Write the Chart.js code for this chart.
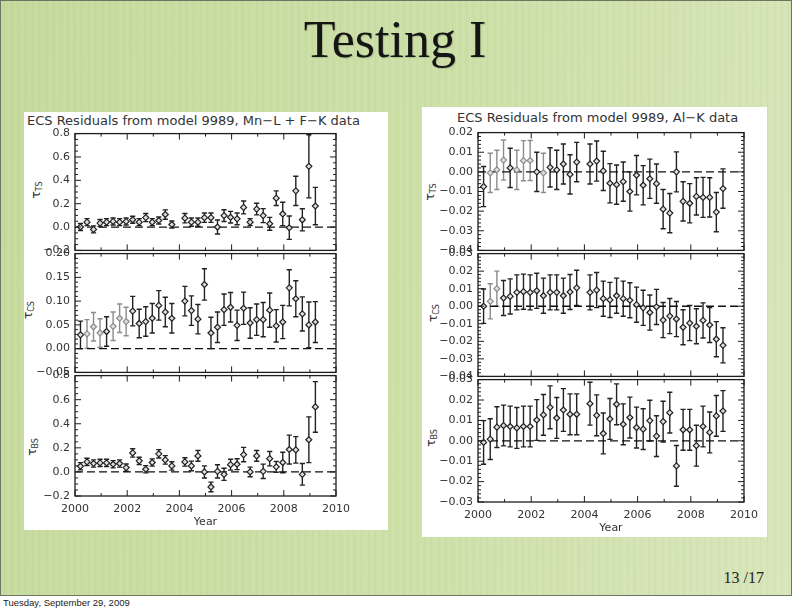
<!DOCTYPE html>
<html><head><meta charset="utf-8">
<script src="https://cdn.jsdelivr.net/npm/chart.js@4.4.0/dist/chart.umd.min.js"></script>
<style>
html,body{margin:0;padding:0;width:792px;height:612px;overflow:hidden;background:#fff;}
#slide{position:absolute;left:0;top:0;width:790px;height:594px;border:1px solid #6d7460;
 background:
  repeating-linear-gradient(90deg, rgba(255,255,255,0.08) 0px, rgba(255,255,255,0.08) 1px, rgba(0,0,0,0) 1px, rgba(0,0,0,0) 3px, rgba(110,130,80,0.05) 3px, rgba(110,130,80,0.05) 4px, rgba(0,0,0,0) 4px, rgba(0,0,0,0) 7px),
  linear-gradient(100deg,#c6d99d 0%,#cde0a8 55%,#d8e6bb 100%);}
.panel{position:absolute;background:#fff;}
.ptitle{position:absolute;font-family:'DejaVu Sans';font-size:13px;color:#333;white-space:nowrap;line-height:1;}
.ylab{position:absolute;font-family:'DejaVu Sans';font-size:12px;color:#333;white-space:nowrap;line-height:1;transform:translate(-50%,-50%) rotate(-90deg);}
.ylab sub{font-size:8px;vertical-align:-2px;}
.cv{position:absolute;}
#title{position:absolute;left:0;width:790px;top:14px;text-align:center;font-family:'Liberation Serif';font-size:52px;line-height:1;color:#151515;text-shadow:1px 1px 1px rgba(0,0,0,0.15);}
#page{position:absolute;right:28px;top:570px;font-family:'Liberation Serif';font-size:16px;line-height:1;color:#222;}
#date{position:absolute;left:3px;top:597px;font-family:'Liberation Sans';font-size:9.5px;color:#222;}
</style>
</head><body>
<div id="slide"></div>
<div id="title">Testing I</div>
<div class="panel" style="left:24px;top:112px;width:364px;height:418px"></div>
<div class="panel" style="left:422px;top:107px;width:345px;height:430px"></div>
<div class="ptitle" style="left:27px;top:114px">ECS Residuals from model 9989, Mn−L + F−K data</div>
<div class="ptitle" style="left:457px;top:111px">ECS Residuals from model 9989, Al−K data</div>
<div class="ylab" style="left:37px;top:190px">τ<sub>TS</sub></div>
<div class="ylab" style="left:29px;top:310px">τ<sub>CS</sub></div>
<div class="ylab" style="left:33px;top:447px">τ<sub>BS</sub></div>
<div class="ylab" style="left:431px;top:192px">τ<sub>TS</sub></div>
<div class="ylab" style="left:434px;top:313px">τ<sub>CS</sub></div>
<div class="ylab" style="left:432px;top:438px">τ<sub>BS</sub></div>
<div id="page">13 /17</div>
<div id="date">Tuesday, September 29, 2009</div>
<div id="charts"></div>
<script>
// ---- data ----
const years = [2000.21,2000.46,2000.71,2000.96,2001.21,2001.46,2001.71,2001.96,2002.21,2002.46,2002.71,2002.96,2003.21,2003.46,2003.71,
  2004.21,2004.46,2004.71,2004.96,2005.21,2005.46,2005.71,2005.96,2006.21,2006.46,2006.71,2006.96,2007.21,2007.46,2007.71,2007.96,2008.21,2008.46,2008.71,2008.96,2009.21];
const xTicks = [2000,2002,2004,2006,2008,2010];

// Left panel: Mn-L + F-K data
const ltVal = [0.00,0.042,-0.02,0.034,0.042,0.048,0.042,0.048,0.062,0.042,0.081,0.042,0.056,0.107,0.022,
  0.076,0.042,0.042,0.08,0.08,0.0,0.098,0.084,0.07,0.168,0.042,0.154,0.098,0.028,0.247,0.112,-0.006,0.31,0.062,0.52,0.18];
const ltErr = [0.03,0.03,0.03,0.03,0.03,0.03,0.03,0.03,0.03,0.03,0.035,0.03,0.03,0.04,0.03,
  0.04,0.035,0.035,0.04,0.04,0.06,0.05,0.05,0.05,0.055,0.03,0.05,0.06,0.055,0.063,0.1,0.1,0.125,0.095,0.27,0.16];
const lmVal = [0.029,0.031,0.046,0.033,0.036,0.047,0.064,0.057,0.079,0.053,0.057,0.064,0.091,0.077,0.064,
  0.1,0.08,0.062,0.135,0.033,0.045,0.082,0.087,0.049,0.085,0.054,0.061,0.061,0.081,0.048,0.056,0.128,0.105,0.073,0.05,0.056];
const lmErr = [0.029,0.03,0.03,0.03,0.031,0.03,0.03,0.03,0.031,0.03,0.031,0.031,0.031,0.031,0.031,
  0.031,0.031,0.031,0.033,0.033,0.032,0.033,0.031,0.032,0.034,0.032,0.033,0.036,0.036,0.034,0.035,0.038,0.038,0.036,0.048,0.043];
const lbVal = [0.047,0.083,0.07,0.075,0.075,0.064,0.07,0.036,0.158,0.092,0.022,0.078,0.15,0.1,0.05,
  0.083,0.05,0.133,0.0,-0.125,0.005,-0.02,0.06,0.064,0.144,0.0,0.133,0.005,0.11,0.042,0.078,0.186,0.183,-0.02,0.267,0.54];
const lbErr = [0.03,0.03,0.03,0.03,0.03,0.03,0.03,0.03,0.035,0.03,0.03,0.03,0.035,0.035,0.035,
  0.035,0.04,0.045,0.05,0.04,0.055,0.05,0.045,0.045,0.06,0.04,0.045,0.06,0.06,0.045,0.085,0.12,0.11,0.09,0.19,0.21];

// Right panel: Al-K data
const rtVal = [-0.0075,-0.0005,0.001,0.006,0.002,0.001,0.0057,0.0058,0.0,-0.0005,0.0023,0.001,0.004,-0.0013,0.005,
  0.004,0.0055,0.0005,-0.0058,-0.0065,-0.005,-0.01,-0.0017,-0.0068,-0.0035,-0.006,-0.019,-0.021,0.0,-0.015,-0.016,-0.0125,-0.013,-0.013,-0.0205,-0.0085];
const rtErr = [0.0102,0.01,0.01,0.0102,0.01,0.01,0.0102,0.0102,0.01,0.01,0.01,0.01,0.0102,0.01,0.01,
  0.0102,0.0102,0.01,0.01,0.01,0.01,0.01,0.01,0.01,0.01,0.01,0.01,0.01,0.0102,0.01,0.01,0.0095,0.0102,0.01,0.01,0.01];
const rmVal = [0.0,0.0028,0.01,0.0047,0.0056,0.0079,0.0083,0.0079,0.0088,0.006,0.0079,0.0079,0.006,0.0081,0.0105,
  0.0079,0.0092,0.0043,0.0036,0.006,0.0043,0.0034,0.0009,-0.0009,-0.0036,-0.0004,-0.0079,-0.0056,-0.0073,-0.012,-0.0096,-0.0114,-0.0081,-0.0107,-0.0188,-0.0223];
const rmErr = [0.0098,0.01,0.01,0.01,0.01,0.01,0.01,0.01,0.01,0.01,0.01,0.01,0.01,0.01,0.01,
  0.01,0.01,0.01,0.01,0.01,0.01,0.01,0.01,0.01,0.01,0.01,0.01,0.01,0.01,0.01,0.01,0.01,0.01,0.01,0.01,0.01];
const rbVal = [-0.0008,0.0008,0.0067,0.0075,0.007,0.0063,0.007,0.007,0.0102,0.0127,0.0164,0.0112,0.0151,0.013,0.013,
  0.0182,0.0125,0.0036,0.0107,0.0179,0.0081,0.0114,0.0065,0.0057,0.0099,0.0023,0.0094,0.0138,-0.0123,0.0054,0.0054,-0.0024,0.007,0.0041,0.0122,0.0146];
const rbErr = [0.0107,0.01,0.01,0.01,0.01,0.01,0.01,0.01,0.01,0.01,0.0105,0.01,0.0105,0.01,0.01,
  0.0105,0.01,0.01,0.01,0.01,0.01,0.01,0.01,0.01,0.01,0.01,0.01,0.01,0.01,0.01,0.01,0.01,0.01,0.01,0.01,0.01];

// tick labels
const ltTicks = [-0.2,0.0,0.2,0.4,0.6,0.8];
const lmTicks = [-0.05,0.0,0.05,0.10,0.15,0.20];
const lbTicks = [-0.2,0.0,0.2,0.4,0.6,0.8];
const rtTicks = [-0.04,-0.03,-0.02,-0.01,0.0,0.01,0.02];
const rmTicks = [-0.04,-0.03,-0.02,-0.01,0.0,0.01,0.02,0.03];
const rbTicks = [-0.03,-0.02,-0.01,0.0,0.01,0.02,0.03];

// points drawn in lighter grey (indices)
const ltGrey = [];
const lmGrey = [1,2,3,5,6,7];
const lbGrey = [];
const rtGrey = [1,2,3,5,6,7,9];
const rmGrey = [1,2];
const rbGrey = [];

// ---- layout (pixel boxes of each plot area) ----
const plots = [
  {vals:ltVal, errs:ltErr, ticks:ltTicks, grey:ltGrey, dec:1, minor:0.05, area:[75,336,132,252], bottom:false},
  {vals:lmVal, errs:lmErr, ticks:lmTicks, grey:lmGrey, dec:2, minor:0.01, area:[75,336,252,374], bottom:false},
  {vals:lbVal, errs:lbErr, ticks:lbTicks, grey:lbGrey, dec:1, minor:0.05, area:[75,336,374,496], bottom:true},
  {vals:rtVal, errs:rtErr, ticks:rtTicks, grey:rtGrey, dec:2, minor:0.002, area:[478,744,131,252], bottom:false},
  {vals:rmVal, errs:rmErr, ticks:rmTicks, grey:rmGrey, dec:2, minor:0.002, area:[478,744,252,378], bottom:false},
  {vals:rbVal, errs:rbErr, ticks:rbTicks, grey:rbGrey, dec:2, minor:0.002, area:[478,744,378,502], bottom:true}
];
const DARK = '#222222', GREY = '#8c8c8c';

Chart.defaults.font.family = 'DejaVu Sans';
Chart.defaults.font.size = 11;
Chart.defaults.color = '#333';

const errorBars = {
  id:'errorBars',
  beforeDatasetsDraw(chart){
    const {ctx, scales:{x,y}} = chart;
    chart.data.datasets.forEach(ds=>{
      if(!ds.errs) return;
      ctx.save();
      ctx.lineWidth = 1.4;
      ds.data.forEach((pt,i)=>{
        const px = x.getPixelForValue(pt.x);
        const y1 = y.getPixelForValue(pt.y - ds.errs[i]);
        const y2 = y.getPixelForValue(pt.y + ds.errs[i]);
        ctx.strokeStyle = Array.isArray(ds.borderColor) ? ds.borderColor[i] : ds.borderColor;
        ctx.beginPath();
        ctx.moveTo(px,y1); ctx.lineTo(px,y2);
        ctx.moveTo(px-2.6,y1); ctx.lineTo(px+2.6,y1);
        ctx.moveTo(px-2.6,y2); ctx.lineTo(px+2.6,y2);
        ctx.stroke();
      });
      ctx.restore();
    });
  }
};

const frame = {
  id:'frame',
  afterDatasetsDraw(chart, args, opts){
    const {ctx, chartArea:a, scales:{x,y}} = chart;
    ctx.save();
    ctx.strokeStyle = '#1e1e1e';
    ctx.lineWidth = 1.3;
    ctx.strokeRect(a.left, a.top, a.right-a.left, a.bottom-a.top);
    ctx.lineWidth = 1;
    ctx.beginPath();
    const nx = Math.round(x.max - x.min);
    for(let k=0;k<=nx;k++){
      const v = x.min + k;
      const px = x.getPixelForValue(v);
      const L = (Math.round(v)%2===0) ? 6 : 3;
      ctx.moveTo(px,a.top); ctx.lineTo(px,a.top+L);
      ctx.moveTo(px,a.bottom); ctx.lineTo(px,a.bottom-L);
    }
    const ny = Math.round((y.max - y.min)/opts.minor);
    for(let k=0;k<=ny;k++){
      const v = y.min + k*opts.minor;
      const py = y.getPixelForValue(v);
      const major = opts.ticks.some(t=>Math.abs(t-v) < opts.minor*0.1);
      const L = major ? 6 : 3;
      ctx.moveTo(a.left,py); ctx.lineTo(a.left+L,py);
      ctx.moveTo(a.right,py); ctx.lineTo(a.right-L,py);
    }
    ctx.stroke();
    ctx.restore();
  }
};

function fmt(v, dec){
  const s = Math.abs(v) < 1e-12 ? (0).toFixed(dec) : v.toFixed(dec);
  return s.replace('-', '\u2212');
}

const host = document.getElementById('charts');
plots.forEach(p=>{
  const yW = 60, padT = 10, padR = 26;
  const padB = p.bottom ? 0 : 10;
  const xH = p.bottom ? 33 : 0;
  const [L,R,T,B] = p.area;
  const cw = yW + (R-L) + padR;
  const ch = padT + (B-T) + padB + xH;
  const cv = document.createElement('canvas');
  cv.className = 'cv';
  cv.width = cw; cv.height = ch;
  cv.style.left = (L - yW) + 'px';
  cv.style.top = (T - padT) + 'px';
  cv.style.width = cw + 'px'; cv.style.height = ch + 'px';
  host.appendChild(cv);
  const colors = p.vals.map((v,i)=> p.grey.includes(i) ? GREY : DARK);
  new Chart(cv.getContext('2d'), {
    type:'scatter',
    data:{
      datasets:[
        {type:'line', data:[{x:2000,y:0},{x:2010,y:0}], borderColor:'#111', borderWidth:1.3, borderDash:[8,4], pointRadius:0, order:2},
        {type:'scatter', data: years.map((x,i)=>({x:x, y:p.vals[i]})), errs:p.errs,
         pointStyle:'rectRot', pointRadius:3, borderWidth:1.2, borderColor:colors, backgroundColor:'#dedede', order:1}
      ]
    },
    options:{
      responsive:false, animation:false, devicePixelRatio:1,
      layout:{padding:{top:padT, bottom:padB, left:0, right:padR}},
      plugins:{legend:{display:false}, tooltip:{enabled:false}, title:{display:false},
        frame:{minor:p.minor, ticks:p.ticks}},
      scales:{
        x:{type:'linear', min:2000, max:2010, display:p.bottom,
           afterBuildTicks:s=>{ s.ticks = xTicks.map(v=>({value:v})); },
           afterFit:s=>{ s.height = xH; },
           ticks:{padding:7, color:'#333', callback:v=>String(v), maxRotation:0, autoSkip:false},
           grid:{display:false, drawTicks:false}, border:{display:false},
           title:{display:true, text:'Year', color:'#333', font:{size:11}, padding:{top:0,bottom:0}}},
        y:{type:'linear', min:p.ticks[0], max:p.ticks[p.ticks.length-1],
           afterBuildTicks:s=>{ s.ticks = p.ticks.map(v=>({value:v})); },
           afterFit:s=>{ s.width = yW; },
           ticks:{padding:5, color:'#333', callback:v=>fmt(v,p.dec), autoSkip:false},
           grid:{display:false, drawTicks:false}, border:{display:false}}
      }
    },
    plugins:[errorBars, frame]
  });
});
</script>
</body></html>
